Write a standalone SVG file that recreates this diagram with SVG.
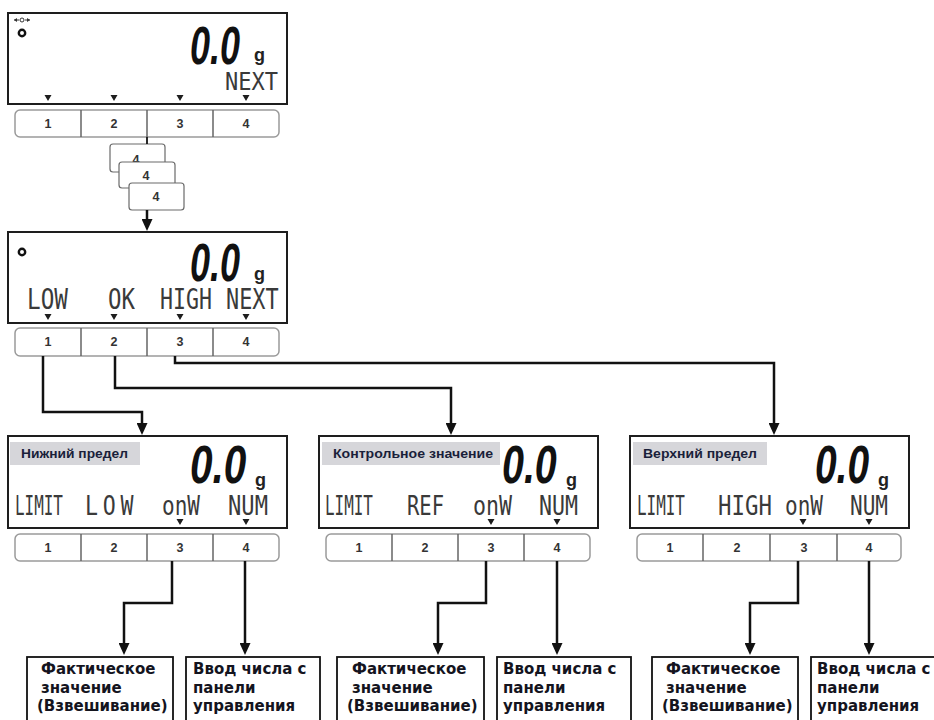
<svg xmlns="http://www.w3.org/2000/svg" width="934" height="720" viewBox="0 0 934 720">
<defs>
<style>
.disp{fill:#fff;stroke:#1e1e1e;stroke-width:2}
.bar{fill:#fff;stroke:#9a9a9a;stroke-width:1.5}
.div{stroke:#666;stroke-width:1.5}
.key{font-family:"Liberation Sans",Arial,sans-serif;font-weight:bold;font-size:12.5px;fill:#333;text-anchor:middle}
.big{font-family:"Liberation Sans",Arial,sans-serif;font-style:italic;font-weight:bold;font-size:54px;fill:#111}
.unit{font-family:"Liberation Sans",Arial,sans-serif;font-weight:bold;font-size:18px;fill:#222}
.seg{font-family:"DejaVu Sans Mono","Liberation Mono",monospace;fill:#3a3a3a}
.tri{fill:#1e1e1e}
.lbl{fill:#d6d6da}
.lbltxt{font-family:"Liberation Sans",Arial,sans-serif;font-weight:bold;font-size:13px;fill:#1a1f3a}
.box{fill:#fff;stroke:#111;stroke-width:1.8}
.btxt{font-family:"DejaVu Sans","Liberation Sans",sans-serif;font-weight:bold;font-size:15px;fill:#14141e}
.sbox{fill:#fff;stroke:#6a6a6a;stroke-width:1.2}
.conn{fill:none;stroke:#111;stroke-width:2.5}
</style>
<marker id="ah" viewBox="0 0 12 11" refX="5" refY="5.5" markerWidth="12" markerHeight="11" markerUnits="userSpaceOnUse" orient="auto">
<path d="M0,0 L12,5.5 L0,11 z" fill="#111"/>
</marker>
</defs>

<!-- Display 1 -->
<g id="display1">
<rect class="disp" x="8" y="13" width="279" height="91"/>
<g fill="none" stroke="#333" stroke-width="1">
<circle cx="22" cy="20" r="2"/>
<path d="M14,20 H19 M25,20 H30"/>
</g>
<path d="M14,20 l3,-2 v4 z M30,20 l-3,-2 v4 z" fill="#333"/>
<circle cx="22" cy="33" r="3.2" fill="#fff" stroke="#111" stroke-width="2.4"/>
<text class="big" transform="translate(190,64) scale(0.667,1)">0.0</text>
<text class="unit" x="254" y="61">g</text>
<text class="seg" transform="translate(225,90) scale(0.88,1)" font-size="25">NEXT</text>
<path class="tri" d="M44.5,95 h7 l-3.5,6 z M110.5,95 h7 l-3.5,6 z M176.5,95 h7 l-3.5,6 z M242.5,95 h7 l-3.5,6 z"/>
</g>
<g id="keys1">
<rect class="bar" x="15" y="110" width="264" height="27" rx="5"/>
<path class="div" d="M81,110 V137 M147,110 V137 M213,110 V137"/>
<text class="key" x="48" y="128">1</text>
<text class="key" x="114" y="128">2</text>
<text class="key" x="180" y="128">3</text>
<text class="key" x="246" y="128">4</text>
</g>

<!-- stacked key-4 presses -->
<g id="press1">
<rect class="sbox" x="110" y="144" width="55" height="28" rx="3"/>
<text class="key" x="136" y="164">4</text>
</g>
<g id="press2">
<rect class="sbox" x="119" y="162" width="56" height="26" rx="3"/>
<text class="key" x="146" y="180">4</text>
</g>
<g id="press3">
<rect class="sbox" x="129" y="183" width="55" height="27" rx="3"/>
<text class="key" x="156" y="201">4</text>
</g>

<!-- Display 2 -->
<g id="display2">
<rect class="disp" x="8" y="232" width="279" height="91"/>
<circle cx="22" cy="252" r="3.2" fill="#fff" stroke="#111" stroke-width="2.4"/>
<text class="big" transform="translate(190,281) scale(0.667,1)">0.0</text>
<text class="unit" x="254" y="280">g</text>
<text class="seg" transform="translate(27,309) scale(0.81,1)" font-size="28">LOW</text>
<text class="seg" transform="translate(108,309) scale(0.8,1)" font-size="28">OK</text>
<text class="seg" transform="translate(160,309) scale(0.77,1)" font-size="28">HIGH</text>
<text class="seg" transform="translate(226,309) scale(0.78,1)" font-size="28">NEXT</text>
<path class="tri" d="M44.5,314 h7 l-3.5,6 z M110.5,314 h7 l-3.5,6 z M176.5,314 h7 l-3.5,6 z M242.5,314 h7 l-3.5,6 z"/>
</g>
<g id="keys2">
<rect class="bar" x="15" y="328" width="264" height="28" rx="5"/>
<path class="div" d="M81,328 V356 M147,328 V356 M213,328 V356"/>
<text class="key" x="48" y="346">1</text>
<text class="key" x="114" y="346">2</text>
<text class="key" x="180" y="346">3</text>
<text class="key" x="246" y="346">4</text>
</g>

<!-- Display LOW -->
<g id="displayLow">
<rect class="disp" x="8" y="436" width="279" height="92"/>
<rect class="lbl" x="10" y="442" width="130" height="23"/>
<text class="lbltxt" x="21" y="458" textLength="107" lengthAdjust="spacingAndGlyphs">Нижний предел</text>
<text class="big" transform="translate(190,483) scale(0.75,1)" font-size="48">0.0</text>
<text class="unit" x="255" y="486">g</text>
<text class="seg" transform="translate(15,515) scale(0.59,1)" font-size="27">LIMIT</text>
<text class="seg" transform="translate(85,515) scale(0.8,1)" font-size="27" letter-spacing="6">LOW</text>
<text class="seg" transform="translate(162,515) scale(0.78,1)" font-size="27">onW</text>
<text class="seg" transform="translate(228,515) scale(0.82,1)" font-size="27">NUM</text>
<path class="tri" d="M176.5,519 h7 l-3.5,6 z M242.5,519 h7 l-3.5,6 z"/>
</g>
<g id="keysLow">
<rect class="bar" x="15" y="534" width="264" height="27" rx="5"/>
<path class="div" d="M81,534 V561 M147,534 V561 M213,534 V561"/>
<text class="key" x="48" y="552">1</text>
<text class="key" x="114" y="552">2</text>
<text class="key" x="180" y="552">3</text>
<text class="key" x="246" y="552">4</text>
</g>

<!-- Display REF -->
<g id="displayRef">
<rect class="disp" x="319" y="436" width="279" height="92"/>
<rect class="lbl" x="322" y="442" width="178" height="23"/>
<text class="lbltxt" x="333" y="458" textLength="160" lengthAdjust="spacingAndGlyphs">Контрольное значение</text>
<text class="big" transform="translate(502,483) scale(0.73,1)" font-size="48">0.0</text>
<text class="unit" x="566" y="486">g</text>
<text class="seg" transform="translate(325,515) scale(0.59,1)" font-size="27">LIMIT</text>
<text class="seg" transform="translate(407,515) scale(0.76,1)" font-size="27">REF</text>
<text class="seg" transform="translate(473,515) scale(0.8,1)" font-size="27">onW</text>
<text class="seg" transform="translate(539,515) scale(0.8,1)" font-size="27">NUM</text>
<path class="tri" d="M487.5,519 h7 l-3.5,6 z M553.5,519 h7 l-3.5,6 z"/>
</g>
<g id="keysRef">
<rect class="bar" x="326" y="534" width="264" height="27" rx="5"/>
<path class="div" d="M392,534 V561 M458,534 V561 M524,534 V561"/>
<text class="key" x="359" y="552">1</text>
<text class="key" x="425" y="552">2</text>
<text class="key" x="491" y="552">3</text>
<text class="key" x="557" y="552">4</text>
</g>

<!-- Display HIGH -->
<g id="displayHigh">
<rect class="disp" x="630" y="436" width="279" height="92"/>
<rect class="lbl" x="633" y="442" width="134" height="23"/>
<text class="lbltxt" x="643" y="458" textLength="114" lengthAdjust="spacingAndGlyphs">Верхний предел</text>
<text class="big" transform="translate(815,483) scale(0.72,1)" font-size="48">0.0</text>
<text class="unit" x="878" y="486">g</text>
<text class="seg" transform="translate(637,515) scale(0.59,1)" font-size="27">LIMIT</text>
<text class="seg" transform="translate(718,515) scale(0.83,1)" font-size="27">HIGH</text>
<text class="seg" transform="translate(785,515) scale(0.78,1)" font-size="27">onW</text>
<text class="seg" transform="translate(850,515) scale(0.78,1)" font-size="27">NUM</text>
<path class="tri" d="M799.5,519 h7 l-3.5,6 z M865.5,519 h7 l-3.5,6 z"/>
</g>
<g id="keysHigh">
<rect class="bar" x="637" y="534" width="264" height="27" rx="5"/>
<path class="div" d="M703,534 V561 M770,534 V561 M837,534 V561"/>
<text class="key" x="670" y="552">1</text>
<text class="key" x="737" y="552">2</text>
<text class="key" x="804" y="552">3</text>
<text class="key" x="869" y="552">4</text>
</g>

<!-- Bottom result boxes -->
<g id="actualLow">
<rect class="box" x="27" y="657" width="146" height="80"/>
<text class="btxt" x="41" y="674">Фактическое</text>
<text class="btxt" x="41" y="692.5">значение</text>
<text class="btxt" x="37" y="711">(Взвешивание)</text>
</g>
<g id="numLow">
<rect class="box" x="186" y="657" width="134" height="80"/>
<text class="btxt" x="193" y="674">Ввод числа с</text>
<text class="btxt" x="193" y="692.5">панели</text>
<text class="btxt" x="193" y="711">управления</text>
</g>
<g id="actualRef">
<rect class="box" x="337" y="657" width="147" height="80"/>
<text class="btxt" x="352" y="674">Фактическое</text>
<text class="btxt" x="352" y="692.5">значение</text>
<text class="btxt" x="347" y="711">(Взвешивание)</text>
</g>
<g id="numRef">
<rect class="box" x="497" y="657" width="134" height="80"/>
<text class="btxt" x="503" y="674">Ввод числа с</text>
<text class="btxt" x="503" y="692.5">панели</text>
<text class="btxt" x="503" y="711">управления</text>
</g>
<g id="actualHigh">
<rect class="box" x="652" y="657" width="146" height="80"/>
<text class="btxt" x="666" y="674">Фактическое</text>
<text class="btxt" x="666" y="692.5">значение</text>
<text class="btxt" x="662" y="711">(Взвешивание)</text>
</g>
<g id="numHigh">
<rect class="box" x="811" y="657" width="134" height="80"/>
<text class="btxt" x="817" y="674">Ввод числа с</text>
<text class="btxt" x="817" y="692.5">панели</text>
<text class="btxt" x="817" y="711">управления</text>
</g>

<!-- Connectors -->
<g id="connectors" class="conn">
<path d="M147,137 V144" stroke-width="1.8"/>
<path d="M147,210 V224" marker-end="url(#ah)"/>
<path d="M43,356 V412 H142 V428" marker-end="url(#ah)"/>
<path d="M115,356 V388 H451 V428" marker-end="url(#ah)"/>
<path d="M175,356 V363 H774 V428" marker-end="url(#ah)"/>
<path d="M172,561 V603 H124 V648" marker-end="url(#ah)"/>
<path d="M245,561 V648" marker-end="url(#ah)"/>
<path d="M486,561 V603 H438 V648" marker-end="url(#ah)"/>
<path d="M557,561 V648" marker-end="url(#ah)"/>
<path d="M798,561 V603 H750 V648" marker-end="url(#ah)"/>
<path d="M869,561 V648" marker-end="url(#ah)"/>
</g>
</svg>
